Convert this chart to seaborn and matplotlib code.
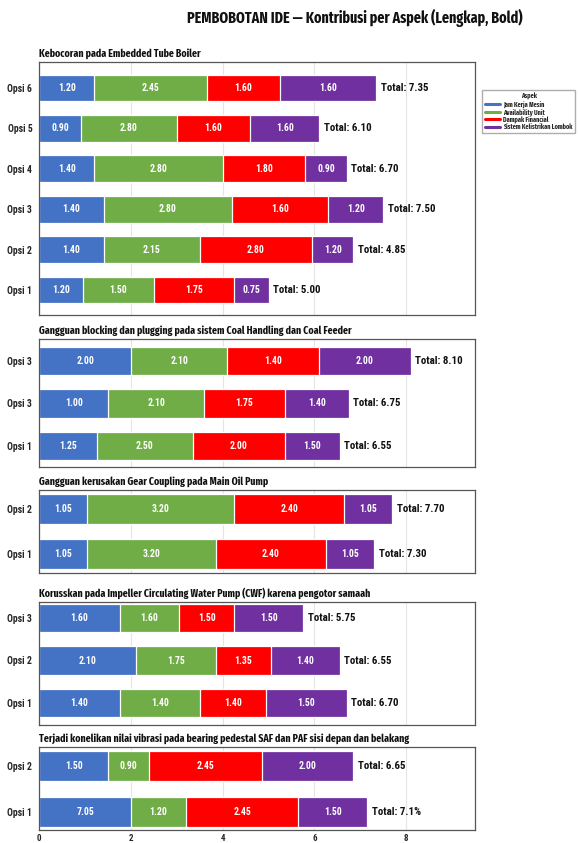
import matplotlib
matplotlib.use("Agg")
import matplotlib.pyplot as plt
from matplotlib.lines import Line2D
import numpy as np
import pandas as pd
import seaborn as sns

sns.set_style("white")
plt.rcParams["font.family"] = ["Roboto Condensed", "Fira Sans Condensed", "DejaVu Sans"]
plt.rcParams["font.weight"] = "bold"
NARROW = ["Fira Sans Extra Condensed", "Roboto Condensed", "DejaVu Sans"]

# ---------------- data ----------------
aspects = ["Jam Kerja Mesin", "Availability Unit", "Dampak Financial", "Sistem Kelistrikan Lombok"]
colors = ["#4472C4", "#70AD47", "#FF0000", "#7030A0"]

title = "PEMBOBOTAN IDE \u2014 Kontribusi per Aspek (Lengkap, Bold)"

p1_title = "Kebocoran pada Embedded Tube Boiler"
p1_opsi = ["Opsi 6", "Opsi 5", "Opsi 4", "Opsi 3", "Opsi 2", "Opsi 1"]
p1_jam = [1.20, 0.90, 1.20, 1.40, 1.40, 0.95]
p1_avail = [2.45, 2.10, 2.80, 2.80, 2.10, 1.55]
p1_dampak = [1.60, 1.60, 1.80, 2.10, 2.45, 1.75]
p1_sistem = [2.10, 1.50, 0.90, 1.20, 0.90, 0.75]
p1_lab_jam = ["1.20", "0.90", "1.40", "1.40", "1.40", "1.20"]
p1_lab_avail = ["2.45", "2.80", "2.80", "2.80", "2.15", "1.50"]
p1_lab_dampak = ["1.60", "1.60", "1.80", "1.60", "2.80", "1.75"]
p1_lab_sistem = ["1.60", "1.60", "0.90", "1.20", "1.20", "0.75"]
p1_totals = ["7.35", "6.10", "6.70", "7.50", "4.85", "5.00"]

p2_title = "Gangguan blocking dan plugging pada sistem Coal Handling dan Coal Feeder"
p2_opsi = ["Opsi 3", "Opsi 3", "Opsi 1"]
p2_jam = [2.00, 1.50, 1.25]
p2_avail = [2.10, 2.10, 2.10]
p2_dampak = [2.00, 1.75, 2.00]
p2_sistem = [2.00, 1.40, 1.20]
p2_lab_jam = ["2.00", "1.00", "1.25"]
p2_lab_avail = ["2.10", "2.10", "2.50"]
p2_lab_dampak = ["1.40", "1.75", "2.00"]
p2_lab_sistem = ["2.00", "1.40", "1.50"]
p2_totals = ["8.10", "6.75", "6.55"]

p3_title = "Gangguan kerusakan Gear Coupling pada Main Oil Pump"
p3_opsi = ["Opsi 2", "Opsi 1"]
p3_jam = [1.05, 1.05]
p3_avail = [3.20, 2.80]
p3_dampak = [2.40, 2.40]
p3_sistem = [1.05, 1.05]
p3_lab_jam = ["1.05", "1.05"]
p3_lab_avail = ["3.20", "3.20"]
p3_lab_dampak = ["2.40", "2.40"]
p3_lab_sistem = ["1.05", "1.05"]
p3_totals = ["7.70", "7.30"]

p4_title = "Korusskan pada Impeller Circulating Water Pump (CWF) karena pengotor samaah"
p4_opsi = ["Opsi 3", "Opsi 2", "Opsi 1"]
p4_jam = [1.75, 2.10, 1.75]
p4_avail = [1.30, 1.75, 1.75]
p4_dampak = [1.20, 1.20, 1.45]
p4_sistem = [1.50, 1.50, 1.75]
p4_lab_jam = ["1.60", "2.10", "1.40"]
p4_lab_avail = ["1.60", "1.75", "1.40"]
p4_lab_dampak = ["1.50", "1.35", "1.40"]
p4_lab_sistem = ["1.50", "1.40", "1.50"]
p4_totals = ["5.75", "6.55", "6.70"]

p5_title = "Terjadi konelikan nilai vibrasi pada bearing pedestal SAF dan PAF sisi depan dan belakang"
p5_opsi = ["Opsi 2", "Opsi 1"]
p5_jam = [1.50, 2.00]
p5_avail = [0.90, 1.20]
p5_dampak = [2.45, 2.45]
p5_sistem = [2.00, 1.50]
p5_lab_jam = ["1.50", "7.05"]
p5_lab_avail = ["0.90", "1.20"]
p5_lab_dampak = ["2.45", "2.45"]
p5_lab_sistem = ["2.00", "1.50"]
p5_totals = ["6.65", "7.1%"]

x_ticks = [0, 2, 4, 6, 8]

panels = [
    (p1_title, p1_opsi, [p1_jam, p1_avail, p1_dampak, p1_sistem],
     [p1_lab_jam, p1_lab_avail, p1_lab_dampak, p1_lab_sistem], p1_totals),
    (p2_title, p2_opsi, [p2_jam, p2_avail, p2_dampak, p2_sistem],
     [p2_lab_jam, p2_lab_avail, p2_lab_dampak, p2_lab_sistem], p2_totals),
    (p3_title, p3_opsi, [p3_jam, p3_avail, p3_dampak, p3_sistem],
     [p3_lab_jam, p3_lab_avail, p3_lab_dampak, p3_lab_sistem], p3_totals),
    (p4_title, p4_opsi, [p4_jam, p4_avail, p4_dampak, p4_sistem],
     [p4_lab_jam, p4_lab_avail, p4_lab_dampak, p4_lab_sistem], p4_totals),
    (p5_title, p5_opsi, [p5_jam, p5_avail, p5_dampak, p5_sistem],
     [p5_lab_jam, p5_lab_avail, p5_lab_dampak, p5_lab_sistem], p5_totals),
]

# ---------------- layout (pixels) ----------------
W, H = 579, 843
ax_left, ax_right = 39.3, 475.0
# (axes top, axes bottom, first row centre, last row centre)
layout = [
    (62, 315, 88, 290),
    (339, 467, 361, 446),
    (490, 573, 509, 554),
    (602, 725, 618, 703),
    (747, 830, 766, 812),
]

fig = plt.figure(figsize=(W / 100, H / 100), dpi=100)
fig.text(355 / W, 1 - 18 / H, title, ha="center", va="center",
         fontsize=11, fontweight="bold", color="#111111", family=NARROW)

axes = []
for k, ((ptitle, opsi, vals, labs, totals), (T, B, yt, yb)) in enumerate(zip(panels, layout)):
    n = len(opsi)
    ax = fig.add_axes([ax_left / W, 1 - B / H, (ax_right - ax_left) / W, (B - T) / H])
    axes.append(ax)
    rows = [f"r{i}" for i in range(n)]
    arr = np.array(vals, dtype=float)
    cum = np.cumsum(arr, axis=0)
    df = pd.DataFrame({"row": rows})
    for j in range(4):
        df[f"c{j}"] = cum[j]
    for j in range(3, -1, -1):
        sns.barplot(data=df, x=f"c{j}", y="row", order=rows, orient="h",
                    color=colors[j], saturation=1, width=0.66, errorbar=None,
                    edgecolor="white", linewidth=0.9, ax=ax)
    # segment labels
    for j in range(4):
        starts = cum[j] - arr[j]
        for i in range(n):
            ax.text(starts[i] + arr[j][i] / 2, i, labs[j][i], ha="center", va="center",
                    color="white", fontsize=7, fontweight="bold")
    for i in range(n):
        ax.text(cum[3][i] + 0.1, i, f"Total: {totals[i]}", ha="left", va="center",
                color="#111111", fontsize=7.8, fontweight="bold")

    s = (yb - yt) / (n - 1)
    ax.set_ylim(n - 1 + (B - yb) / s, -(yt - T) / s)
    ax.set_xlim(0, 9.5)
    ax.set_xticks(x_ticks)
    ax.set_yticks(range(n))
    ax.set_yticklabels(opsi)
    ax.set_xlabel("")
    ax.set_ylabel("")
    ax.grid(axis="x", color="#e4e4e4", linewidth=0.8)
    ax.grid(axis="y", visible=False)
    ax.set_axisbelow(True)
    ax.tick_params(axis="y", length=3, width=0.8, color="#444444", labelsize=7, pad=2)
    ax.tick_params(axis="x", length=2.5, width=0.8, color="#444444", labelsize=6.5, pad=0.5)
    for lab in ax.get_yticklabels() + ax.get_xticklabels():
        lab.set_fontweight("bold")
    if k < len(panels) - 1:
        ax.tick_params(axis="x", labelbottom=False)
    for sp in ax.spines.values():
        sp.set_visible(True)
        sp.set_color("#555555")
        sp.set_linewidth(0.9)
    ax.set_title(ptitle, loc="left", fontsize=7.7, fontweight="bold", pad=4,
                 color="#111111", family=NARROW)

handles = [Line2D([0], [0], color=c, lw=2.2) for c in colors]
leg = fig.legend(handles, aspects, title="Aspek", loc="upper left",
                 bbox_to_anchor=(479 / W, 1 - 87 / H), fontsize=4.9, title_fontsize=4.9,
                 frameon=True, handlelength=2.2, borderpad=0.35, labelspacing=0.04,
                 handletextpad=0.5, fancybox=False, edgecolor="#999999",
                 prop={"family": NARROW, "size": 4.9, "weight": "bold"})
leg.get_title().set_fontweight("bold")
leg.get_title().set_family(NARROW)

fig.savefig("out.png", dpi=100)
